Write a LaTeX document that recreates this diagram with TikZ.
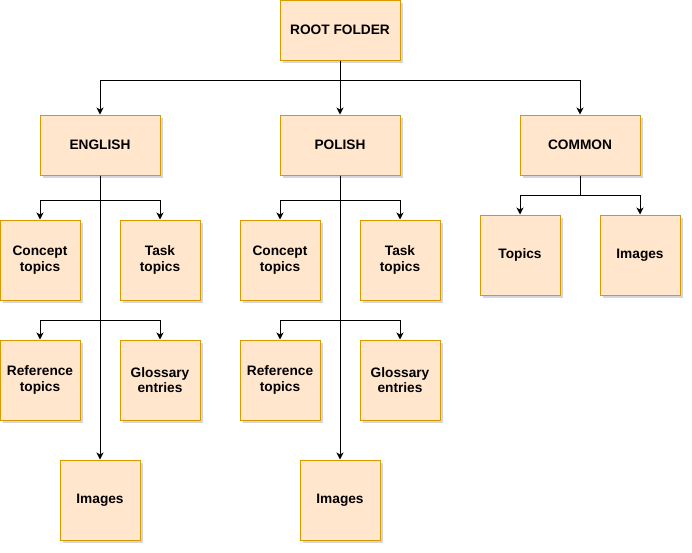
\documentclass[tikz,border=0pt]{standalone}
\usepackage{fontspec}
\setmainfont{Liberation Sans}
\usetikzlibrary{arrows.meta,shadows}
\definecolor{boxfill}{HTML}{FFE6CC}
\definecolor{boxline}{HTML}{D79B00}
\definecolor{shade}{HTML}{B8BCCB}
\tikzset{
  folder/.style={draw=boxline, fill=boxfill, line width=1pt, inner sep=0pt,
    font=\fontsize{13.7}{15.7}\selectfont\bfseries, align=center,
    drop shadow={shadow xshift=3pt, shadow yshift=-3pt, fill=shade, opacity=.6}},
  wide/.style={folder, minimum width=120pt, minimum height=60pt},
  leaf/.style={folder, minimum width=80pt, minimum height=80pt},
  link/.style={line width=1pt, -{Stealth[length=7pt,width=7pt,inset=2pt]}}
}
\begin{document}
\begin{tikzpicture}[x=1pt,y=-1pt]
      \useasboundingbox (0,0) rectangle (692,552);
      \draw
        (340,30) node[wide] (root){ROOT FOLDER}
        (100,145) node[wide] (en){ENGLISH}
        (340,145) node[wide] (pl){POLISH}
        (580,145) node[wide] (com){COMMON}
        (40,260) node[leaf] (enconcept){Concept\\topics}
        (160,260) node[leaf] (entask){Task\\topics}
        (40,380) node[leaf] (enref){Reference\\topics}
        (160,380) node[leaf] (engloss){Glossary\\entries}
        (100,500) node[leaf] (enimg){Images}
        (280,260) node[leaf] (plconcept){Concept\\topics}
        (400,260) node[leaf] (pltask){Task\\topics}
        (280,380) node[leaf] (plref){Reference\\topics}
        (400,380) node[leaf] (plgloss){Glossary\\entries}
        (340,500) node[leaf] (plimg){Images}
        (520,255) node[leaf] (comtopics){Topics}
        (640,255) node[leaf] (comimg){Images};
      \begin{scope}[link]
        \draw (root.south) -- ++(0,20) -| (en.north);
        \draw (root.south) -- (pl.north);
        \draw (root.south) -- ++(0,20) -| (com.north);
        \draw (en.south) -- ++(0,25) -| (enconcept.north);
        \draw (en.south) -- ++(0,25) -| (entask.north);
        \draw (en.south) -- ++(0,145) -| (enref.north);
        \draw (en.south) -- ++(0,145) -| (engloss.north);
        \draw (en.south) -- (enimg.north);
        \draw (pl.south) -- ++(0,25) -| (plconcept.north);
        \draw (pl.south) -- ++(0,25) -| (pltask.north);
        \draw (pl.south) -- ++(0,145) -| (plref.north);
        \draw (pl.south) -- ++(0,145) -| (plgloss.north);
        \draw (pl.south) -- (plimg.north);
        \draw (com.south) -- ++(0,20) -| (comtopics.north);
        \draw (com.south) -- ++(0,20) -| (comimg.north);
      \end{scope}
    \end{tikzpicture}
\end{document}
